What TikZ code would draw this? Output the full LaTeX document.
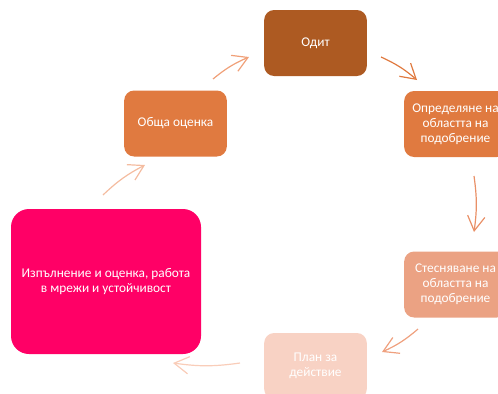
\documentclass[tikz,border=0pt]{standalone}
\usepackage{fontspec}
\setmainfont{Carlito}
\usetikzlibrary{arrows.meta}

\definecolor{odit}{HTML}{AD5A22}
\definecolor{orange}{HTML}{E07A40}
\definecolor{peach}{HTML}{EBA283}
\definecolor{blush}{HTML}{F8D2C4}
\definecolor{magenta}{HTML}{FF0066}

\begin{document}
\begin{tikzpicture}[
    x=0.75pt,
    y=-0.75pt,
    font=\fontsize{10}{11.4}\selectfont,
    block/.style={
        rectangle,
        rounded corners=7.5pt,
        align=center,
        text=white,
        inner sep=1pt,
        minimum width=77pt,
        minimum height=49.5pt
    },
    arrow/.style={
        -{Straight Barb[length=11pt,width=13pt]},
        line width=0.9pt
    }
]

\clip (0,0) rectangle (498,393);

\node[block, fill=odit] (odit) at (315.5,43) {Одит};

\node[block, fill=orange] (opred) at (455.5,124) {Определяне на\\областта на\\подобрение};

\node[block, fill=peach] (stesn) at (455.5,284.5) {Стесняване на\\областта на\\подобрение};

\node[block, fill=blush] (plan) at (315.5,366) {План за\\действие};

\node[block, fill=magenta, rounded corners=13.5pt, minimum width=142.5pt, minimum height=108.75pt] (izpal) at (106,281.5) {Изпълнение и оценка, работа\\в мрежи и устойчивост};

\node[block, fill=orange] (obshta) at (175.5,123.5) {Обща оценка};

% arrow ends between the blocks
\coordinate (a1s) at (213,79);  \coordinate (a1e) at (249,57);
\coordinate (a2s) at (381,57);  \coordinate (a2e) at (417,80);
\coordinate (a3s) at (474,176); \coordinate (a3e) at (474,232);
\coordinate (a4s) at (418,329); \coordinate (a4e) at (382,352);
\coordinate (a5s) at (240,363); \coordinate (a5e) at (173,363);
\coordinate (a6s) at (103,195); \coordinate (a6e) at (145,165);

\draw[arrow, color={rgb,255:red,240;green,160;blue,120}] (a1s) to[bend left=8] (a1e);
\draw[arrow, color=orange] (a2s) to[bend left=8] (a2e);
\draw[arrow, color={rgb,255:red,233;green,144;blue,103}] (a3s) to[bend left=8] (a3e);
\draw[arrow, color={rgb,255:red,239;green,160;blue,126}] (a4s) to[bend left=8] (a4e);
\draw[arrow, color={rgb,255:red,249;green,205;blue,185}] (a5s) to[bend left=8] (a5e);
\draw[arrow, color={rgb,255:red,244;green,188;blue,160}] (a6s) to[bend left=8] (a6e);

\end{tikzpicture}
\end{document}
